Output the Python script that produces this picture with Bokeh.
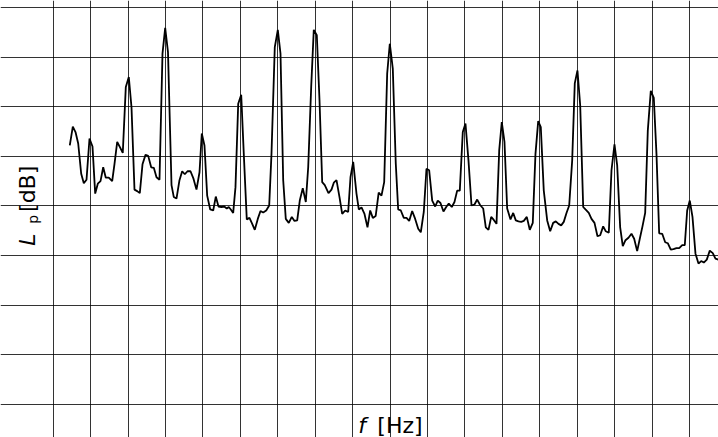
import math
from bokeh.plotting import figure
from bokeh.models import Range1d, Grid, FixedTicker
from bokeh.core.properties import value
from bokeh.embed import file_html
from bokeh.resources import INLINE

# frequency [Hz] and sound pressure level [dB]
freq = [4.43, 5.24, 5.96, 6.68, 7.48, 8.18, 8.90, 9.70, 10.50, 11.22, 11.92, 12.64, 13.36, 14.05,
        14.85, 15.76, 16.38, 17.10, 17.79, 18.59, 19.40, 20.20, 20.92, 21.72, 22.44, 23.14, 23.86,
        24.66, 25.38, 26.18, 26.88, 27.60, 28.40, 29.20, 29.92, 30.67, 31.61, 32.22, 32.94, 33.74,
        34.46, 35.16, 35.88, 36.68, 37.48, 38.28, 39.09, 39.70, 40.42, 41.14, 41.95, 42.75, 43.44,
        44.16, 44.96, 45.69, 46.38, 46.91, 47.45, 48.09, 48.70, 49.43, 50.23, 50.92, 51.72, 52.44,
        53.17, 53.86, 54.66, 55.38, 56.10, 56.91, 57.71, 58.32, 59.20, 60.01, 60.73, 61.45, 62.14,
        62.94, 63.75, 64.47, 65.19, 65.88, 66.68, 67.49, 68.13, 68.93, 69.62, 70.43, 71.15, 71.87,
        72.56, 73.55, 74.35, 74.97, 75.69, 76.49, 77.21, 78.01, 78.81, 79.43, 80.15, 81.03, 81.65,
        82.37, 83.17, 83.97, 84.69, 85.39, 86.16, 86.96, 87.71, 88.43, 89.23, 89.93, 90.73, 91.53,
        92.17, 92.87, 93.67, 94.39, 95.11, 95.91, 96.71, 97.52, 98.21, 99.01, 99.73, 100.45, 101.26,
        102.06, 102.75, 103.47, 104.27, 105.00, 105.69, 106.49, 107.21, 107.93, 108.63, 109.43,
        110.15, 110.95, 111.76, 112.56, 113.28, 114.05, 114.88, 115.58, 116.30, 117.02, 117.71,
        118.44, 119.16, 119.85, 120.57, 121.29, 122.18, 122.90, 123.59, 124.31, 125.03, 125.73,
        126.53, 127.33, 128.13, 128.85, 129.58, 130.27, 131.07, 131.98, 132.78, 133.58, 134.28,
        135.00, 135.72, 136.41, 137.14, 137.86, 138.66, 139.35, 140.07, 140.80, 141.60, 142.21,
        143.09, 143.82, 144.62, 145.42, 146.14, 146.94, 147.64, 148.44, 149.16, 149.96, 150.68,
        151.48, 152.18, 152.90, 153.70, 154.50, 155.22, 156.02, 156.72, 157.44, 158.16, 158.86,
        159.66, 160.46, 161.18, 161.90, 162.71, 163.51, 164.20, 165.00, 165.72, 166.52, 167.25,
        168.05, 168.74, 169.38, 170.08, 170.80, 171.60, 172.40, 173.12, 173.82, 174.62, 175.42,
        176.22, 176.94, 177.75]
level = [52.2, 56.0, 54.9, 52.6, 46.5, 44.6, 45.3, 53.6, 52.0, 42.5, 44.5, 45.0, 47.8, 45.7,
         45.7, 45.0, 48.5, 52.9, 51.9, 50.7, 64.0, 66.0, 59.9, 43.3, 43.0, 42.6, 48.4,
         50.3, 50.1, 47.8, 47.7, 45.8, 45.3, 70.7, 75.9, 71.0, 44.2, 41.8, 41.5, 45.2,
         47.0, 46.4, 47.0, 47.0, 45.5, 43.3, 46.8, 54.6, 52.2, 42.1, 39.3, 39.1, 41.9,
         39.9, 39.8, 39.9, 39.5, 39.8, 39.3, 38.6, 43.8, 60.6, 62.4, 50.5, 37.3, 37.6,
         36.4, 35.2, 37.4, 39.0, 38.7, 39.1, 40.1, 50.5, 72.0, 75.5, 70.7, 45.2, 37.4,
         36.6, 37.8, 37.0, 37.1, 41.1, 43.6, 40.8, 47.8, 64.0, 75.5, 74.4, 61.3, 44.8,
         44.2, 42.6, 43.3, 44.7, 45.2, 41.8, 38.4, 39.1, 38.8, 45.8, 48.9, 42.5, 39.3,
         39.7, 38.4, 35.7, 39.1, 37.6, 38.0, 42.7, 42.1, 44.8, 66.7, 72.7, 67.7, 48.5,
         39.3, 39.1, 37.6, 37.6, 37.0, 39.0, 37.4, 35.4, 34.7, 38.8, 47.5, 47.2, 41.1,
         39.9, 41.1, 40.6, 38.9, 39.8, 40.5, 39.8, 40.8, 43.1, 43.1, 54.9,
         56.6, 49.2, 40.1, 40.3, 41.3, 40.2, 39.5, 35.7, 35.2, 37.8, 37.2,
         36.4, 51.2, 56.9, 52.9, 39.5, 37.3, 38.6, 37.1, 36.9, 36.8, 37.0,
         37.8, 35.2, 36.6, 50.5, 57.1, 55.9, 43.1, 37.1, 34.9, 36.6, 36.9,
         36.4, 36.1, 36.8, 38.6, 40.1, 49.2, 64.7, 67.3, 60.3, 39.8, 39.3,
         38.6, 37.4, 36.6, 33.9, 34.1, 35.9, 34.9, 34.6, 47.2, 52.4, 48.2,
         35.7, 31.9, 33.1, 33.6, 34.4, 33.4, 30.9, 33.4, 35.9, 38.6, 55.2,
         63.2, 61.8, 50.5, 34.5, 34.4, 32.7, 32.5, 31.2, 31.3, 31.5, 31.5,
         32.1, 32.1, 39.1, 41.1, 37.8, 30.4, 28.4, 28.9, 28.6, 29.2, 31.0,
         30.5, 29.4, 29.2]

x_grid = [0, 10, 20, 30, 40, 50, 60, 70, 80, 90, 100, 110, 120, 130, 140, 150, 160, 170]
y_grid = [0, 10, 20, 30, 40, 50, 60, 70, 80]
f_max = 177.75
L_max = 80

FONT = "DejaVu Sans"

# the frame covers the whole canvas; the data area (0..f_max, 0..80) sits inside it,
# leaving room for the axis labels, which are drawn as text glyphs
p = figure(width=718, height=437, output_backend="svg", toolbar_location=None,
           x_range=Range1d(-14.08, f_max), y_range=Range1d(-6.65, 81.41),
           x_axis_type=None, y_axis_type=None,
           min_border_left=0, min_border_right=0, min_border_top=0, min_border_bottom=0)
p.outline_line_color = None
p.background_fill_color = "white"
p.border_fill_color = "white"

p.add_layout(Grid(dimension=0, ticker=FixedTicker(ticks=x_grid), bounds=(0, L_max),
                  grid_line_color="black", grid_line_alpha=0.8, grid_line_width=1))
p.add_layout(Grid(dimension=1, ticker=FixedTicker(ticks=y_grid), bounds=(0, f_max),
                  grid_line_color="black", grid_line_alpha=0.8, grid_line_width=1))

p.line(freq, level, line_color="black", line_width=1.8)

# x axis label: italic f, then [Hz]
p.text(x=[81.5], y=[-4.2], text=["f"], text_font=value(FONT),
       text_font_style=value("italic"), text_font_size=value("22px"),
       text_color="black", text_baseline=value("alphabetic"), text_align=value("left"))
p.text(x=[86.6], y=[-4.2], text=["[Hz]"], text_font=value(FONT),
       text_font_size=value("22px"),
       text_color="black", text_baseline=value("alphabetic"), text_align=value("left"))

# y axis label (rotated): italic L, subscript p, [dB]
p.text(x=[-6.8], y=[32.0], text=["L"], angle=math.pi / 2, text_font=value(FONT),
       text_font_style=value("italic"), text_font_size=value("22px"),
       text_color="black", text_baseline=value("alphabetic"), text_align=value("left"))
p.text(x=[-5.5], y=[36.4], text=["p"], angle=math.pi / 2, text_font=value(FONT),
       text_font_size=value("14px"),
       text_color="black", text_baseline=value("alphabetic"), text_align=value("left"))
p.text(x=[-6.8], y=[38.8], text=["[dB]"], angle=math.pi / 2, text_font=value(FONT),
       text_font_size=value("22px"),
       text_color="black", text_baseline=value("alphabetic"), text_align=value("left"))

open("out.html", "w").write(file_html(p, INLINE))
